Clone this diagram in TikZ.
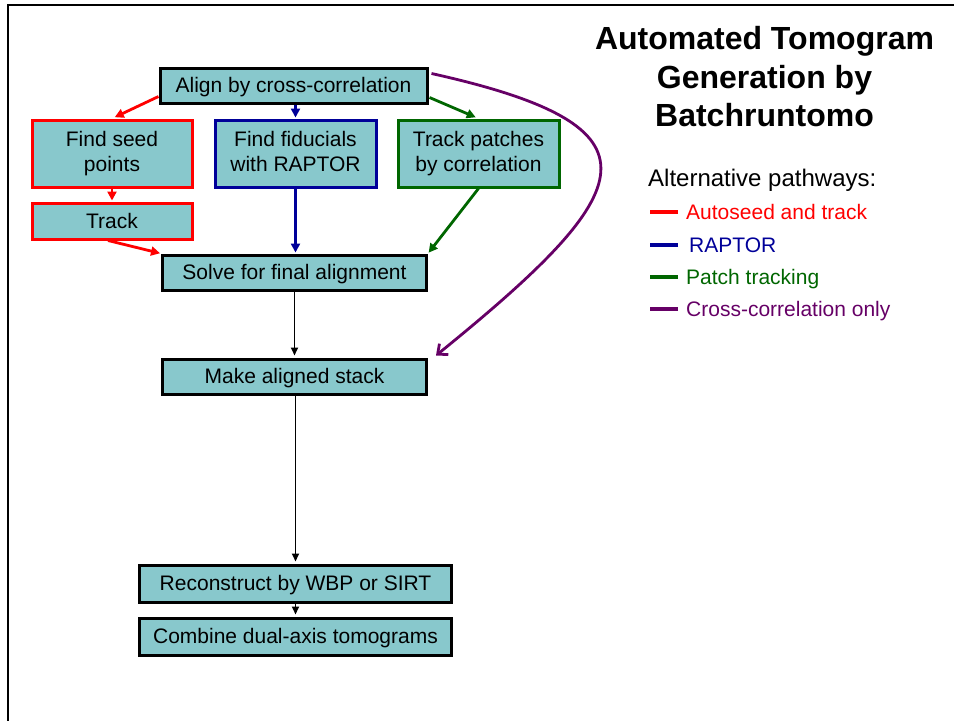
\documentclass[tikz,border=0pt]{standalone}
\usepackage{fontspec}
\setmainfont{Liberation Sans}
\usetikzlibrary{arrows.meta,calc}

\definecolor{boxteal}{RGB}{136,200,204}
\definecolor{raptorblue}{RGB}{0,0,153}
\definecolor{patchgreen}{RGB}{0,102,0}
\definecolor{xcpurple}{RGB}{102,0,102}

\newcommand{\boxstrut}{\rule[-0.212em]{0pt}{1.117em}}

\begin{document}
\begin{tikzpicture}[x=1pt,y=-1pt,
    stepbox/.style={draw=black,line width=3pt,fill=boxteal,inner sep=0pt,
        align=center,font=\fontsize{21}{25}\selectfont,
        execute at begin node=\boxstrut,execute at end node=\boxstrut},
    flow/.style={-{Triangle[length=8pt,width=7pt]},line width=1.8pt,shorten >=2pt},
    path/.style={-{Triangle[length=9pt,width=9pt]},line width=2.8pt,shorten >=3pt},
    legtext/.style={anchor=base west,inner sep=0pt,font=\fontsize{21}{25}\selectfont}]

    \useasboundingbox (0,0) rectangle (954,721);

    % Slide frame
    \draw[line width=2.5pt] (954,5) -- (8,5) -- (8,721);

    % Title
    \node[align=center,font=\bfseries\fontsize{32}{38.5}\selectfont] (title) at (764.5,77)
        {Automated Tomogram\\Generation by\\Batchruntomo};

    % Boxes
    \node[stepbox,minimum width=267pt,minimum height=35pt] (align) at (293.5,85.5) {Align by cross-correlation};
    \node[stepbox,draw=red,minimum width=160pt,minimum height=67pt] (seed) at (112,153.5) {Find seed\\points};
    \node[stepbox,draw=raptorblue,minimum width=161pt,minimum height=67pt] (fid) at (295.5,153.5) {Find fiducials\\with RAPTOR};
    \node[stepbox,draw=patchgreen,minimum width=161pt,minimum height=67pt] (patch) at (478.5,153.5) {Track patches\\by correlation};
    \node[stepbox,draw=red,minimum width=160pt,minimum height=36pt] (track) at (112,221) {Track};
    \node[stepbox,minimum width=264pt,minimum height=35pt] (solve) at (294.5,272.5) {Solve for final alignment};
    \node[stepbox,minimum width=264pt,minimum height=35pt] (stack) at (294.5,376.5) {Make aligned stack};
    \node[stepbox,minimum width=312pt,minimum height=37pt] (recon) at (295.5,583.5) {Reconstruct by WBP or SIRT};
    \node[stepbox,minimum width=312pt,minimum height=37pt] (combine) at (295.5,636.5) {Combine dual-axis tomograms};

    % Autoseed and track
    \draw[path,red] ($(align.south west)+(0,-8)$) -- (seed.north);
    \draw[path,red,shorten >=1pt] (seed.south) -- (track.north);
    \draw[path,red,shorten >=1pt] ($(track.south)+(-4,0)$) -- (solve.north west);

    % RAPTOR
    \draw[path,raptorblue,shorten >=1pt] (fid.north |- align.south) -- (fid.north);
    \draw[path,raptorblue,shorten >=1pt] (fid.south) -- (fid.south |- solve.north);

    % Patch tracking
    \draw[path,patchgreen] ($(align.south east)+(1,-7)$) -- (patch.north);
    \draw[path,patchgreen,shorten >=1pt] (patch.south) -- (solve.north east);

    % Cross-correlation only
    \coordinate (xcend) at ($(stack.north east)+(8,-2)$);
    \draw[xcpurple,line width=2.8pt,-{Straight Barb[length=8pt,width=14pt]}]
        ($(align.north east)+(3,7)$) .. controls (672,127) and (640,190) .. (xcend);

    % Main line
    \draw[flow] (solve.south) -- (stack.north);
    \draw[flow] (stack.south -| recon.north) -- (recon.north);
    \draw[flow] (recon.south) -- (combine.north);

    % Legend
    \node[legtext,font=\fontsize{24}{28}\selectfont] (legtitle) at (648,186) {Alternative pathways:};
    \node[legtext,text=red] (legauto) at (686,219.5) {Autoseed and track};
    \node[legtext,text=raptorblue] (legraptor) at (689,252.5) {RAPTOR};
    \node[legtext,text=patchgreen] (legpatch) at (686,284.5) {Patch tracking};
    \node[legtext,text=xcpurple] (legxc) at (686,316.5) {Cross-correlation only};
    \draw[red,line width=3.5pt] ($(legauto.base west)+(-8,-7.5)$) -- ++(-28,0);
    \draw[raptorblue,line width=3.5pt] ($(legraptor.base west)+(-11,-7.5)$) -- ++(-28,0);
    \draw[patchgreen,line width=3.5pt] ($(legpatch.base west)+(-8,-7.5)$) -- ++(-28,0);
    \draw[xcpurple,line width=3.5pt] ($(legxc.base west)+(-8,-7.5)$) -- ++(-28,0);
\end{tikzpicture}
\end{document}
